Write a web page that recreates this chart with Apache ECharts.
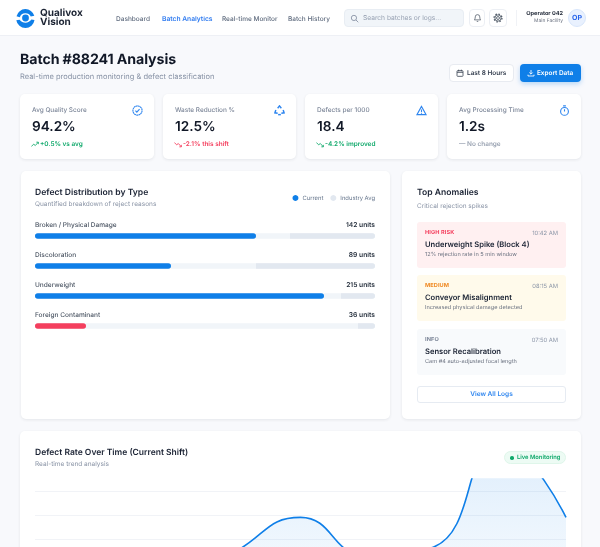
<!DOCTYPE html>
<html>
<head>
<meta charset="utf-8">
<title>Batch #88241 Analysis</title>
<script src="https://cdn.jsdelivr.net/npm/echarts@6/dist/echarts.min.js"></script>
<style>
*{box-sizing:border-box;margin:0;padding:0}
html,body{width:600px;height:547px;overflow:hidden;background:#f8f9fc;font-family:Inter,"Noto Sans",sans-serif;color:#111827;text-rendering:geometricPrecision}
body{filter:blur(.3px)}
svg text{text-rendering:geometricPrecision}
.abs{position:absolute;white-space:nowrap}
.header{position:absolute;left:0;top:0;width:600px;height:36px;background:#fff;border-bottom:1px solid #eef0f5}
.nav{font-size:6.5px;font-weight:500;color:#5f6b7e;top:14.5px;line-height:9px}
.nav.on{color:#2f7bf0;font-weight:600;font-size:6.7px}
.card{position:absolute;background:#fff;border-radius:5px;box-shadow:0 1px 3px rgba(30,41,59,.09)}
.kpi .lbl{position:absolute;left:12px;top:11.5px;font-size:6.45px;line-height:9px;color:#7c8698;white-space:nowrap;font-weight:500}
.kpi .val{position:absolute;left:12px;top:22.5px;font-size:13.6px;line-height:21px;font-weight:600;color:#111827;white-space:nowrap}
.kpi .dlt{position:absolute;left:20px;top:45.5px;font-size:6.45px;line-height:9px;font-weight:600;white-space:nowrap}
.kpi svg.ic{position:absolute;right:11px;top:11px}
.item{position:absolute;left:15px;width:149px;height:46px;border-radius:3px}
.item .tag{position:absolute;left:8px;top:8px;font-size:5.6px;font-weight:700;letter-spacing:.1px}
.item .tm{position:absolute;right:8px;top:8px;font-size:5.8px;color:#8a94a6}
.item .ttl{position:absolute;left:8px;top:18px;font-size:7.6px;font-weight:600;color:#1a2233;white-space:nowrap}
.item .dsc{position:absolute;left:8px;top:30px;font-size:5.6px;color:#6b7280;white-space:nowrap}
</style>
</head>
<body>
<div class="header"></div>
<svg class="abs" style="left:15px;top:8px" width="21" height="21" viewBox="0 0 21 21">
  <path d="M1.5 8.2A9.2 9.2 0 0 1 19.3 7.8L15.8 8.6A6 6 0 0 0 4.8 9.3Z" fill="#0f7fe8"/>
  <path d="M1.3 12.2A9.2 9.2 0 0 0 19.5 12L16.4 11.6C14 15.6 7.4 15.8 4.6 11.8Z" fill="#0f7fe8"/>
  <circle cx="10.5" cy="10" r="3.4" fill="#0f7fe8"/>
</svg>
<div class="abs" style="left:40px;top:9px;font-size:10px;line-height:9px;font-weight:700;color:#1c2433">Qualivox</div>
<div class="abs" style="left:40px;top:18px;font-size:10px;line-height:9px;font-weight:700;color:#1c2433">Vision</div>
<div class="abs nav" style="left:116px">Dashboard</div>
<div class="abs nav on" style="left:162px">Batch Analytics</div>
<div class="abs nav" style="left:222px">Real-time Monitor</div>
<div class="abs nav" style="left:288px">Batch History</div>
<div class="abs" style="left:344px;top:9px;width:120px;height:18px;background:#f1f5f9;border:1px solid #e8edf3;border-radius:4px"></div>
<svg class="abs" style="left:350px;top:13.5px" width="9" height="9" viewBox="0 0 24 24" fill="none" stroke="#8a94a6" stroke-width="2.4"><circle cx="10.5" cy="10.5" r="7"/><path d="M16 16l6 6"/></svg>
<div class="abs" style="left:363px;top:14px;font-size:6.65px;line-height:9px;color:#98a2b3">Search batches or logs...</div>
<div class="abs" style="left:469px;top:9px;width:16px;height:18px;border:1px solid #eceff4;border-radius:4px"></div>
<svg class="abs" style="left:472.5px;top:13px" width="9" height="10" viewBox="0 0 24 24" fill="none" stroke="#4b5563" stroke-width="2"><path d="M6 9a6 6 0 0 1 12 0c0 6 2.5 8 2.5 8h-17S6 15 6 9Z"/><path d="M10 21h4"/></svg>
<div class="abs" style="left:489px;top:9px;width:18px;height:18px;border:1px solid #eceff4;border-radius:4px"></div>
<svg class="abs" style="left:493px;top:13px" width="10" height="10" viewBox="0 0 24 24" fill="none" stroke="#4b5563"><circle cx="12" cy="12" r="3.5" stroke-width="2"/><circle cx="12" cy="12" r="7.5" stroke-width="2"/><circle cx="12" cy="12" r="9.5" stroke-width="3" stroke-dasharray="3.6 3.86"/></svg>
<div class="abs" style="left:516px;top:10px;width:1px;height:16px;background:#f0f2f6"></div>
<div class="abs" style="right:37px;top:10px;font-size:5.6px;line-height:8px;font-weight:700;color:#1c2433">Operator 042</div>
<div class="abs" style="right:37px;top:18px;font-size:4.9px;line-height:7px;color:#6b7280">Main Facility</div>
<div class="abs" style="left:568px;top:9px;width:18px;height:18px;border-radius:50%;background:#e9f1fe;border:1px solid #d8e6fb;font-size:7px;font-weight:700;color:#2563eb;text-align:center;line-height:16px">OP</div>

<div class="abs" style="left:20px;top:50px;font-size:14.2px;line-height:20px;font-weight:700;color:#111827;letter-spacing:-.1px">Batch #88241 Analysis</div>
<div class="abs" style="left:20px;top:71px;font-size:7.5px;line-height:11px;color:#8792a5">Real-time production monitoring &amp; defect classification</div>

<div class="abs" style="left:449px;top:64px;width:65px;height:18px;background:#fff;border:1px solid #e8ebf1;border-radius:4px"></div>
<svg class="abs" style="left:456px;top:68.5px" width="8" height="8" viewBox="0 0 24 24" fill="none" stroke="#374151" stroke-width="2.4"><rect x="3" y="5" width="18" height="17" rx="2"/><path d="M3 10h18M8 2v5M16 2v5"/></svg>
<div class="abs" style="left:467px;top:68px;font-size:6.45px;line-height:10px;font-weight:600;color:#374151">Last 8 Hours</div>
<div class="abs" style="left:520px;top:64px;width:61px;height:18px;background:#0f7fe8;border-radius:4px;box-shadow:0 2px 5px rgba(15,127,232,.28)"></div>
<svg class="abs" style="left:527px;top:69px" width="8" height="8" viewBox="0 0 24 24" fill="none" stroke="#fff" stroke-width="2.6"><path d="M12 3v12M7 10.5l5 5 5-5M3 17v4h18v-4"/></svg>
<div class="abs" style="left:537px;top:68px;font-size:6.4px;line-height:10px;font-weight:600;color:#fff">Export Data</div>

<div class="card kpi" style="left:20px;top:94px;width:134px;height:65px">
  <div class="lbl">Avg Quality Score</div><div class="val">94.2%</div>
  <svg class="abs" style="left:11px;top:46.5px" width="8" height="7" viewBox="0 0 24 20" fill="none" stroke="#10a96b" stroke-width="2.6"><path d="M1 16l7-7 5 4 9-10M16 3h6v6"/></svg>
  <div class="dlt" style="color:#10a96b">+0.5% vs avg</div>
  <svg class="ic" width="11" height="11" viewBox="0 0 24 24" fill="none" stroke="#2f86ef" stroke-width="2.4"><circle cx="12" cy="12" r="10" stroke-dasharray="4 .7"/><path d="M7.5 12.5l3 3 6-6.5"/></svg>
</div>
<div class="card kpi" style="left:163px;top:94px;width:133px;height:65px">
  <div class="lbl">Waste Reduction %</div><div class="val">12.5%</div>
  <svg class="abs" style="left:11px;top:46.5px" width="8" height="7" viewBox="0 0 24 20" fill="none" stroke="#f43f5e" stroke-width="2.6"><path d="M1 4l7 7 5-4 9 10M16 17h6v-6"/></svg>
  <div class="dlt" style="color:#f43f5e">-2.1% this shift</div>
  <svg class="ic" width="11" height="11" viewBox="0 0 24 24" fill="none" stroke="#2f86ef" stroke-width="3.2"><path d="M8 7l4-5 4 5M20 11l2 6-6 1M4 11l-2 6 6 1"/><path d="M9 21h6"/></svg>
</div>
<div class="card kpi" style="left:305px;top:94px;width:133px;height:65px">
  <div class="lbl">Defects per 1000</div><div class="val">18.4</div>
  <svg class="abs" style="left:11px;top:46.5px" width="8" height="7" viewBox="0 0 24 20" fill="none" stroke="#10a96b" stroke-width="2.6"><path d="M1 4l7 7 5-4 9 10M16 17h6v-6"/></svg>
  <div class="dlt" style="color:#10a96b">-4.2% improved</div>
  <svg class="ic" width="11" height="11" viewBox="0 0 24 24" fill="none" stroke="#2f86ef" stroke-width="2.4"><path d="M12 3L2 21h20Z"/><path d="M12 10v5M12 17v2"/></svg>
</div>
<div class="card kpi" style="left:447px;top:94px;width:134px;height:65px">
  <div class="lbl">Avg Processing Time</div><div class="val">1.2s</div>
  <div class="dlt" style="left:12px;color:#9aa3b2">&#8212; No change</div>
  <svg class="ic" width="11" height="11" viewBox="0 0 24 24" fill="none" stroke="#2f86ef" stroke-width="2.4"><circle cx="12" cy="14" r="8.5"/><path d="M9 2h6M12 9v5"/></svg>
</div>

<div class="card" id="defectChart" style="left:21px;top:171px;width:369px;height:248px"></div>

<div class="card" style="left:402px;top:171px;width:179px;height:248px">
  <div class="abs" style="left:15px;top:16px;font-size:8.6px;line-height:12px;font-weight:600;color:#1a2233">Top Anomalies</div>
  <div class="abs" style="left:15px;top:31px;font-size:6.45px;line-height:9px;color:#8a94a6">Critical rejection spikes</div>
  <div class="item" style="top:51px;background:#fff0f1">
    <div class="tag" style="color:#f43f5e">HIGH RISK</div><div class="tm">10:42 AM</div>
    <div class="ttl">Underweight Spike (Block 4)</div><div class="dsc">12% rejection rate in 5 min window</div>
  </div>
  <div class="item" style="top:104px;background:#fffaeb">
    <div class="tag" style="color:#f08a24">MEDIUM</div><div class="tm">08:15 AM</div>
    <div class="ttl">Conveyor Misalignment</div><div class="dsc">Increased physical damage detected</div>
  </div>
  <div class="item" style="top:158px;background:#f8fafc">
    <div class="tag" style="color:#7c8698">INFO</div><div class="tm">07:50 AM</div>
    <div class="ttl">Sensor Recalibration</div><div class="dsc">Cam #4 auto-adjusted focal length</div>
  </div>
  <div class="abs" style="left:15px;top:215px;width:149px;height:17px;border:1px solid #e6ebf2;border-radius:3px;text-align:center;font-size:6.55px;line-height:15px;font-weight:600;color:#2f86ef">View All Logs</div>
</div>

<div class="card" id="trendChart" style="left:20px;top:431px;width:561px;height:240px"></div>
<div class="abs" style="left:504px;top:451px;width:62px;height:13px;background:#edfbf4;border:1px solid #dff6ea;border-radius:7px"></div>
<div class="abs" style="left:510px;top:456px;width:3.5px;height:3.5px;border-radius:50%;background:#10a96b"></div>
<div class="abs" style="left:517px;top:453.5px;font-size:5.8px;line-height:8px;font-weight:600;color:#10a96b">Live Monitoring</div>

<script>
var categories = ['Broken / Physical Damage', 'Discoloration', 'Underweight', 'Foreign Contaminant'];
var units = [142, 89, 215, 36];
var currentShare = [65, 40, 85, 15];
var industryStart = [75, 65, 90, 95];
var industryShare = [25, 35, 10, 5];
var alertCategory = 'Foreign Contaminant';

var shiftTimes = ['08:00', '09:00', '10:00', '11:00', '12:00', '13:00', '14:00', '15:00', '16:00'];
var defectRate = [1.4, 1.5, 0.9, 1.72, 2.45, 1.65, 1.83, 4.0, 2.45];

var pageModule = function () {
	var fontName = 'Inter';

	var initDefectChart = function () {
		var chart = echarts.init(document.getElementById('defectChart'), null, {renderer: 'svg'});
		chart.setOption({
			animation: false,
			title: {
				text: 'Defect Distribution by Type',
				subtext: 'Quantified breakdown of reject reasons',
				left: 14,
				top: 17,
				padding: 0,
				itemGap: 3,
				textStyle: {fontFamily: fontName, fontSize: 8.6, fontWeight: 600, color: '#1a2233'},
				subtextStyle: {fontFamily: fontName, fontSize: 6.5, color: '#8a94a6'}
			},
			legend: {
				data: [
					{name: 'Current', itemStyle: {color: '#0f7fe8'}},
					{name: 'Industry Avg', itemStyle: {color: '#e2e8f0'}}
				],
				right: 15,
				top: 24,
				padding: 0,
				icon: 'circle',
				itemWidth: 6,
				itemHeight: 6,
				itemGap: 7,
				textStyle: {fontFamily: fontName, fontSize: 5.85, color: '#64748b', padding: [0, 0, 0, -1]}
			},
			grid: {left: 14, right: 15, top: 50, height: 120},
			xAxis: {type: 'value', min: 0, max: 100, show: false},
			yAxis: {type: 'category', inverse: true, data: categories, show: false},
			series: [
				{
					name: 'Current',
					type: 'bar',
					barWidth: 5.5,
					barGap: '-100%',
					z: 3,
					data: currentShare,
					showBackground: true,
					backgroundStyle: {color: '#f1f5f9', borderRadius: 3},
					itemStyle: {
						borderRadius: 3,
						color: function (p) {
							return p.name === alertCategory ? '#f43f5e' : '#0f7fe8';
						}
					},
					label: {
						show: true,
						position: [0, -11.5],
						formatter: '{b}',
						fontFamily: fontName,
						fontSize: 6.55,
						fontWeight: 500,
						color: '#4b5563'
					}
				},
				{
					type: 'bar',
					stack: 'avg',
					barWidth: 5.5,
					z: 4,
					silent: true,
					data: industryStart,
					itemStyle: {color: 'transparent'}
				},
				{
					name: 'Industry Avg',
					type: 'bar',
					stack: 'avg',
					barWidth: 5.5,
					z: 4,
					data: industryShare,
					itemStyle: {color: '#e2e8f0', borderRadius: [0, 3, 3, 0]},
					label: {
						show: true,
						position: ['100%', -11.5],
						align: 'right',
						formatter: function (p) {
							return units[p.dataIndex] + ' units';
						},
						fontFamily: fontName,
						fontSize: 6.7,
						fontWeight: 600,
						color: '#1f2937'
					}
				}
			]
		});
	};

	var initTrendChart = function () {
		var chart = echarts.init(document.getElementById('trendChart'), null, {renderer: 'svg'});
		chart.setOption({
			animation: false,
			title: {
				text: 'Defect Rate Over Time (Current Shift)',
				subtext: 'Real-time trend analysis',
				left: 15,
				top: 17,
				padding: 0,
				itemGap: 3,
				textStyle: {fontFamily: fontName, fontSize: 8.5, fontWeight: 600, color: '#1a2233'},
				subtextStyle: {fontFamily: fontName, fontSize: 6.5, color: '#8a94a6'}
			},
			// grid bottom runs past the window, only the upper part of the plot shows
			grid: {left: 15, right: 15, top: 48, height: 156},
			xAxis: {
				type: 'category',
				boundaryGap: false,
				data: shiftTimes,
				axisLine: {show: false},
				axisTick: {show: false},
				axisLabel: {show: false}
			},
			yAxis: {
				type: 'value',
				min: 0,
				max: 3.25,
				interval: 0.5,
				axisLabel: {show: false},
				axisLine: {show: false},
				axisTick: {show: false},
				splitLine: {showMaxLine: false, lineStyle: {color: '#f1f3f7', width: 1}}
			},
			series: [{
				name: 'Defect Rate',
				type: 'line',
				smooth: 0.5,
				symbol: 'none',
				clip: true,
				data: defectRate,
				lineStyle: {color: '#0f7fe8', width: 1.6},
				areaStyle: {
					color: new echarts.graphic.LinearGradient(0, 0, 0, 1, [
						{offset: 0, color: 'rgba(15,127,232,0.2)'},
						{offset: 1, color: 'rgba(15,127,232,0)'}
					])
				}
			}]
		});
	};

	return {
		initControl: function () {
			initDefectChart();
			initTrendChart();
		}
	};
}();
pageModule.initControl();
</script>
</body>
</html>
